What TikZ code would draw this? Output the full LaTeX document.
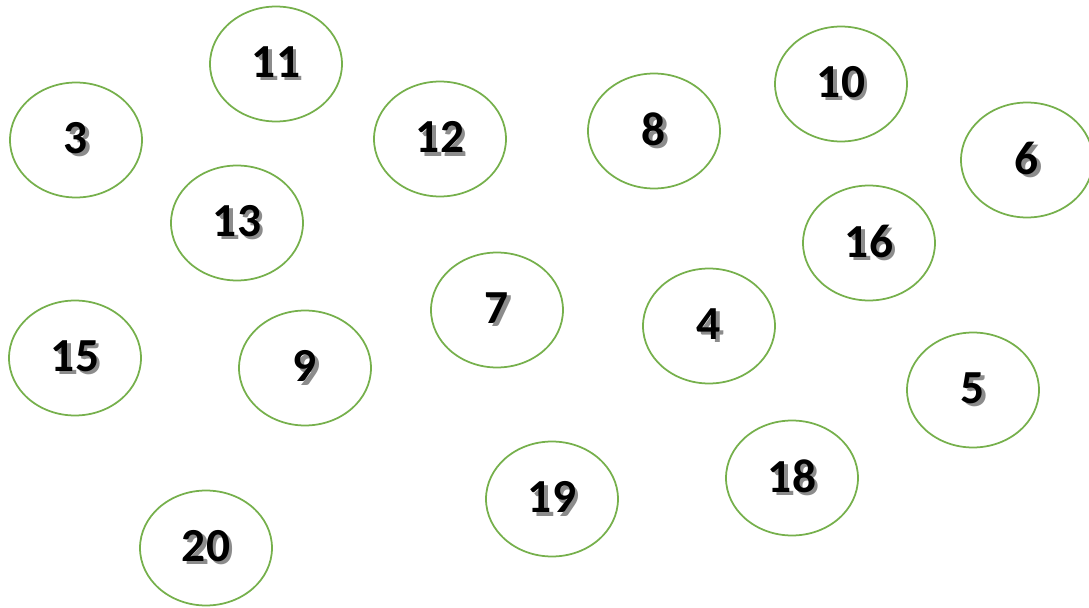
\documentclass[tikz,border=0pt]{standalone}
\usepackage{fontspec}
\setmainfont{Carlito}
\usepackage{tikz}
\usetikzlibrary{shapes.geometric}
\definecolor{ringgreen}{RGB}{118,176,76}
\definecolor{shadowgray}{RGB}{140,140,140}
\newcommand{\shnum}[1]{\makebox[0pt][l]{\hspace{1.8pt}\raisebox{-1.8pt}{\textcolor{shadowgray}{#1}}}#1}

\begin{document}
\begin{tikzpicture}[x=0.02cm,y=-0.02cm]
  \tikzset{bubble/.style={ellipse,draw=ringgreen,line width=1pt,minimum width=2.64cm,minimum height=2.3cm,inner sep=0pt,font=\fontsize{27}{29}\selectfont\bfseries}}
  \useasboundingbox (0,0) rectangle (1089,608);
  % circles, x/y/number
  \foreach \x/\y/\n in {76/140/3,276/64/11,440/139/12,654/131/8,841/84/10,1027/160/6,
                        237/223/13,869/243/16,497/310/7,709/326/4,75/358/15,305/368/9,
                        973/390/5,552/499/19,792/478/18,206/548/20}{
     \node[bubble] (n\n) at (\x,\y) {\shnum{\n}};
  }
\end{tikzpicture}
\end{document}
